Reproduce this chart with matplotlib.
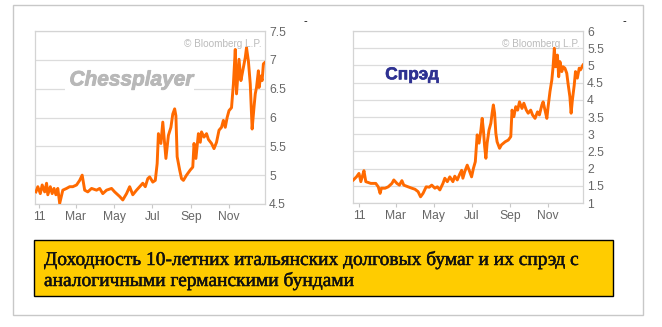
import matplotlib
matplotlib.use("Agg")
import matplotlib.pyplot as plt
from matplotlib.patches import Rectangle
import matplotlib.patheffects as pe
import pandas as pd

# ---------------- data ----------------
yield_dates = [
    "2010-12-27", "2010-12-30", "2011-01-03", "2011-01-06", "2011-01-10", "2011-01-13",
    "2011-01-15", "2011-01-19", "2011-01-22", "2011-01-25", "2011-01-28", "2011-01-31",
    "2011-02-03", "2011-02-08", "2011-02-14", "2011-02-19", "2011-02-24", "2011-03-02",
    "2011-03-07", "2011-03-11", "2011-03-15", "2011-03-20", "2011-03-26", "2011-04-03",
    "2011-04-08", "2011-04-13", "2011-04-19", "2011-04-27", "2011-05-02", "2011-05-10",
    "2011-05-15", "2011-05-21", "2011-05-26", "2011-05-31", "2011-06-06", "2011-06-11",
    "2011-06-16", "2011-06-20", "2011-06-24", "2011-06-27", "2011-07-02", "2011-07-06",
    "2011-07-09", "2011-07-11", "2011-07-15", "2011-07-18", "2011-07-23", "2011-07-27",
    "2011-07-31", "2011-08-03", "2011-08-06", "2011-08-08", "2011-08-10", "2011-08-14",
    "2011-08-17", "2011-08-20", "2011-08-25", "2011-08-31", "2011-09-04", "2011-09-06",
    "2011-09-09", "2011-09-13", "2011-09-16", "2011-09-18", "2011-09-22", "2011-09-26",
    "2011-09-29", "2011-10-04", "2011-10-08", "2011-10-12", "2011-10-16", "2011-10-20",
    "2011-10-23", "2011-10-26", "2011-10-29", "2011-11-01", "2011-11-05", "2011-11-08",
    "2011-11-11", "2011-11-13", "2011-11-17", "2011-11-20", "2011-11-23", "2011-11-27",
    "2011-11-29", "2011-12-02", "2011-12-05", "2011-12-08", "2011-12-11", "2011-12-13",
    "2011-12-15", "2011-12-18", "2011-12-19", "2011-12-22", "2011-12-24", "2011-12-26",
    "2011-12-28",
]
yield_values = [
    4.71, 4.80, 4.68, 4.83, 4.71, 4.86,
    4.66, 4.80, 4.68, 4.77, 4.66, 4.77,
    4.51, 4.74, 4.77, 4.80, 4.80, 4.83,
    4.91, 5.00, 4.74, 4.71, 4.77, 4.74,
    4.77, 4.68, 4.74, 4.77, 4.71, 4.63,
    4.57, 4.68, 4.80, 4.66, 4.74, 4.80,
    4.86, 4.80, 4.94, 4.97, 4.88, 4.91,
    5.20, 5.72, 5.55, 5.92, 5.29, 5.69,
    5.83, 6.06, 6.15, 6.03, 5.32, 5.09,
    4.94, 4.91, 5.00, 5.09, 5.14, 5.55,
    5.29, 5.72, 5.57, 5.75, 5.66, 5.72,
    5.62, 5.55, 5.46, 5.57, 5.78, 5.83,
    5.95, 5.83, 6.00, 6.12, 6.17, 6.58,
    7.18, 6.41, 7.01, 6.64, 6.81, 7.04,
    7.21, 6.98, 6.58, 5.80, 6.18, 6.41,
    6.52, 6.81, 6.52, 6.72, 6.64, 6.93,
    6.95,
]

spread_dates = [
    "2010-12-23", "2010-12-28", "2011-01-01", "2011-01-04", "2011-01-07", "2011-01-09",
    "2011-01-12", "2011-01-20", "2011-01-28", "2011-02-01", "2011-02-04", "2011-02-06",
    "2011-02-12", "2011-02-17", "2011-02-23", "2011-02-26", "2011-03-03", "2011-03-07",
    "2011-03-11", "2011-03-14", "2011-03-21", "2011-03-27", "2011-04-01", "2011-04-06",
    "2011-04-10", "2011-04-14", "2011-04-19", "2011-04-24", "2011-04-28", "2011-05-03",
    "2011-05-07", "2011-05-11", "2011-05-16", "2011-05-19", "2011-05-23", "2011-05-27",
    "2011-06-01", "2011-06-04", "2011-06-08", "2011-06-12", "2011-06-15", "2011-06-17",
    "2011-06-20", "2011-06-24", "2011-06-27", "2011-07-01", "2011-07-04", "2011-07-07",
    "2011-07-10", "2011-07-13", "2011-07-16", "2011-07-18", "2011-07-20", "2011-07-22",
    "2011-07-24", "2011-07-26", "2011-07-29", "2011-08-01", "2011-08-03", "2011-08-05",
    "2011-08-07", "2011-08-09", "2011-08-11", "2011-08-15", "2011-08-18", "2011-08-24",
    "2011-08-29", "2011-09-02", "2011-09-04", "2011-09-07", "2011-09-10", "2011-09-13",
    "2011-09-16", "2011-09-20", "2011-09-23", "2011-09-27", "2011-09-30", "2011-10-04",
    "2011-10-07", "2011-10-11", "2011-10-15", "2011-10-18", "2011-10-22", "2011-10-24",
    "2011-10-27", "2011-10-30", "2011-11-01", "2011-11-04", "2011-11-07", "2011-11-09",
    "2011-11-11", "2011-11-13", "2011-11-16", "2011-11-18", "2011-11-20", "2011-11-23",
    "2011-11-25", "2011-11-28", "2011-12-01", "2011-12-03", "2011-12-06", "2011-12-08",
    "2011-12-10", "2011-12-13", "2011-12-15", "2011-12-18", "2011-12-21", "2011-12-23",
    "2011-12-27",
]
spread_values = [
    1.67, 1.76, 1.86, 1.62, 1.81, 1.94,
    1.62, 1.57, 1.57, 1.47, 1.28, 1.43,
    1.43, 1.47, 1.57, 1.67, 1.57, 1.52,
    1.65, 1.52, 1.47, 1.43, 1.40, 1.33,
    1.18, 1.28, 1.47, 1.46, 1.52, 1.43,
    1.47, 1.38, 1.57, 1.72, 1.62, 1.76,
    1.62, 1.78, 1.67, 1.84, 1.95, 1.72,
    1.91, 2.10, 1.96, 1.76, 2.01, 2.20,
    2.98, 2.74, 3.12, 3.46, 3.12, 2.64,
    2.30, 2.74, 3.12, 3.32, 3.61, 3.85,
    3.61, 3.03, 2.78, 2.59, 2.69, 2.78,
    2.83, 2.93, 3.70, 3.51, 3.80, 3.70,
    3.94, 3.75, 3.90, 3.70, 3.61, 3.70,
    3.56, 3.46, 3.65, 3.56, 3.85, 3.94,
    3.70, 3.46, 3.80, 4.24, 4.58, 4.96,
    5.50, 4.96, 5.30, 4.67, 5.11, 4.82,
    4.96, 4.92, 4.77, 4.48, 4.09, 3.61,
    3.99, 4.43, 4.82, 4.63, 4.92, 4.87,
    5.01,
]

month_ticks = ["2011-01-01", "2011-03-01", "2011-05-01", "2011-07-01", "2011-09-01", "2011-11-01"]
month_labels = ["11", "Mar", "May", "Jul", "Sep", "Nov"]

yield_ticks = [4.5, 5, 5.5, 6, 6.5, 7, 7.5]
yield_ticklabels = ["4.5", "5", "5.5", "6", "6.5", "7", "7.5"]
spread_ticks = [1, 1.5, 2, 2.5, 3, 3.5, 4, 4.5, 5, 5.5, 6]
spread_ticklabels = ["1", "1.5", "2", "2.5", "3", "3.5", "4", "4.5", "5", "5.5", "6"]

caption_lines = [
    "Доходность 10-летних итальянских долговых бумаг и их спрэд с",
    "аналогичными германскими бундами",
]

# ---------------- figure ----------------
W, H = 662, 327
fig = plt.figure(figsize=(W / 100, H / 100), dpi=100)
fig.patch.set_facecolor("white")


def fx(px):
    return px / W


def fy(py):
    return 1 - py / H


LINE_C = "#FF6A00"
GRID_C = "#DCDCDC"
TICK_C = "#666666"
SANS = ["Liberation Sans", "DejaVu Sans"]
SERIF = ["Liberation Serif", "DejaVu Serif"]

# outer frame
fig.add_artist(Rectangle((fx(13), fy(315)), fx(643) - fx(13), fy(5) - fy(315),
                         transform=fig.transFigure, fill=False, edgecolor="#C8C8C8", lw=1.0))


def make_axes(rect_px, dates, values, ticks, ticklabels, xlim):
    x0, y0, x1, y1 = rect_px
    ax = fig.add_axes([fx(x0), fy(y1), fx(x1) - fx(x0), fy(y0) - fy(y1)])
    d = pd.to_datetime(dates)
    ax.plot(d, values, color=LINE_C, lw=2.1, zorder=3)
    ax.set_xlim(pd.Timestamp(xlim[0]), pd.Timestamp(xlim[1]))
    ax.set_ylim(ticks[0], ticks[-1])
    ax.yaxis.tick_right()
    ax.set_yticks(ticks)
    ax.set_yticklabels(ticklabels, fontsize=8.7, color=TICK_C, family=SANS)
    ax.tick_params(axis="y", length=0, pad=3)
    ax.set_xticks(pd.to_datetime(month_ticks))
    ax.set_xticklabels(month_labels, fontsize=8.7, color=TICK_C, family=SANS)
    ax.tick_params(axis="x", length=3, color="#C8C8C8", pad=2)
    ax.set_axisbelow(True)
    ax.grid(axis="y", color=GRID_C, lw=0.9)
    for s in ax.spines.values():
        s.set_color("#D4D4D4")
        s.set_linewidth(0.9)
    ax.text(0.985, 0.925, "© Bloomberg L.P.", transform=ax.transAxes, ha="right", va="center",
            fontsize=7.2, color="#BBBBBB", family=SANS)
    return ax


ax1 = make_axes((35, 31, 265, 204), yield_dates, yield_values, yield_ticks, yield_ticklabels,
                ("2010-12-25 12:00", "2011-12-28 14:00"))
ax2 = make_axes((353, 31, 583, 203), spread_dates, spread_values, spread_ticks, spread_ticklabels,
                ("2010-12-22 10:00", "2011-12-27 02:00"))

# Chessplayer watermark on a white patch that cuts the grid line
ax1.add_patch(Rectangle((0.13, 0.63), 0.56, 0.17, transform=ax1.transAxes,
                        facecolor="white", edgecolor="none", zorder=1))
ax1.text(0.42, 0.717, "Chessplayer", transform=ax1.transAxes, ha="center", va="center",
         fontsize=15, fontweight="bold", fontstyle="italic", color="#B8B8B8",
         family=SANS, zorder=2,
         path_effects=[pe.Stroke(linewidth=0.6, foreground="#B8B8B8"), pe.Normal()])

# Spread label
ax2.text(0.14, 0.745, "Спрэд", transform=ax2.transAxes, ha="left", va="center",
         fontsize=12.5, fontweight="bold", color="#2E3192", family=SANS, zorder=2,
         path_effects=[pe.Stroke(linewidth=0.4, foreground="#2E3192"), pe.Normal()])

# small dashes
fig.text(fx(305), fy(21), "-", ha="center", va="center", fontsize=8, color="black", family=SANS)
fig.text(fx(624), fy(21), "-", ha="center", va="center", fontsize=8, color="black", family=SANS)

# caption box
fig.add_artist(Rectangle((fx(34), fy(296)), fx(613) - fx(34), fy(240) - fy(296),
                         transform=fig.transFigure, facecolor="#FFCC00", edgecolor="black", lw=1.0))
cap_fx = [pe.Stroke(linewidth=0.35, foreground="#111111"), pe.Normal()]
fig.text(fx(44), fy(265), caption_lines[0], ha="left", va="baseline", fontsize=14,
         color="#111111", family=SERIF, path_effects=cap_fx)
fig.text(fx(44), fy(286), caption_lines[1], ha="left", va="baseline", fontsize=14,
         color="#111111", family=SERIF, path_effects=cap_fx)

fig.savefig("out.png", dpi=100, facecolor="white")
